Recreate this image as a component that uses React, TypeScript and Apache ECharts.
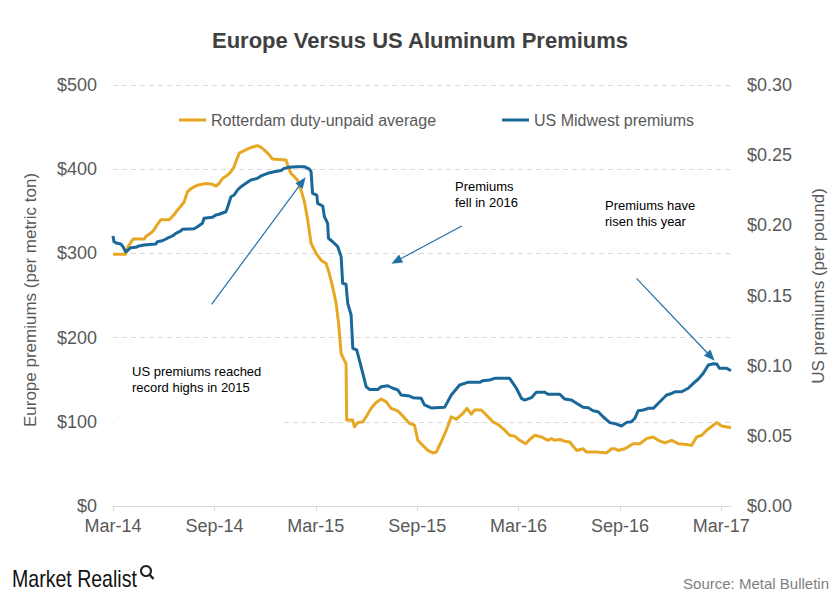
import React, { useEffect, useRef } from "react";
import * as echarts from "echarts";

// ---- data (x = months since Mar-2014) ----
const xTickLabels = ["Mar-14", "Sep-14", "Mar-15", "Sep-15", "Mar-16", "Sep-16", "Mar-17"];
const xTickMonths = [0, 6, 12, 18, 24, 30, 36];

const rotterdamMonths = [
  0, 0.75, 0.89, 1.19, 1.84, 1.94, 2.23, 2.43, 2.61, 2.83, 3.32, 3.62, 3.79, 4.01, 4.21, 4.4, 4.61, 5.0, 5.5, 5.89,
  6.09, 6.28, 6.48, 6.78, 6.98, 7.17, 7.27, 7.47, 7.77, 8.06, 8.36, 8.55, 8.76, 8.95, 9.21, 9.44, 10.24, 10.33, 10.53,
  10.73, 10.92, 11.13, 11.32, 11.52, 11.72, 12.02, 12.31, 12.61, 12.8, 13.0, 13.2, 13.35, 13.5, 13.69, 13.79, 13.83,
  14.18, 14.29, 14.48, 14.78, 14.98, 15.28, 15.57, 15.87, 16.16, 16.46, 16.85, 17.15, 17.55, 17.84, 18.04, 18.33,
  18.63, 18.93, 19.13, 19.42, 19.72, 20.02, 20.31, 20.71, 20.94, 21.2, 21.4, 21.8, 22.09, 22.48, 22.78, 23.18, 23.47,
  23.77, 24.07, 24.42, 24.66, 24.96, 25.35, 25.74, 25.94, 26.14, 26.44, 26.73, 27.03, 27.43, 27.82, 28.02, 28.61,
  29.21, 29.5, 29.7, 29.89, 30.29, 30.78, 31.18, 31.57, 31.97, 32.26, 32.66, 33.06, 33.45, 33.95, 34.24, 34.54, 34.84,
  35.13, 35.53, 35.73, 36.02, 36.57,
];
const rotterdamValues = [
  299, 299, 308, 317, 317, 320, 324, 328, 334, 340, 340, 346, 351, 356, 361, 373, 377, 381, 383, 382,
  380, 383, 389, 393, 397, 403, 409, 419, 422, 425, 427, 428, 426, 423, 418, 412, 411, 405, 395,
  391, 387, 375, 362, 340, 312, 300, 292, 288, 276, 260, 241, 217, 181, 173, 169, 102,
  102, 94, 99, 100, 106, 116, 123, 127, 124, 116, 113, 107, 98, 96, 78, 72,
  66, 63, 64, 76, 90, 106, 103, 110, 116, 109, 114, 114, 108, 100, 97, 90, 84,
  83, 78, 74, 79, 84, 82, 78, 80, 78, 79, 77, 76, 66, 68, 64, 64,
  63, 68, 68, 66, 68, 74, 74, 80, 82, 78, 75, 78, 74, 73, 72, 82, 84,
  90, 96, 99, 95, 93,
];

const usMonths = [
  0, 0.06, 0.25, 0.46, 0.59, 0.75, 0.85, 1.05, 1.35, 1.54, 1.84, 2.53, 2.63, 2.92, 3.22, 3.52, 3.72, 4.01, 4.11, 4.8,
  5.0, 5.29, 5.39, 5.89, 6.09, 6.28, 6.68, 6.78, 6.98, 7.17, 7.37, 7.57, 7.87, 8.16, 8.55, 8.76, 9.15, 9.54, 9.94,
  10.14, 10.43, 10.83, 11.32, 11.62, 11.72, 11.81, 12.06, 12.11, 12.41, 12.51, 12.7, 12.75, 13.0, 13.3, 13.5, 13.59,
  13.79, 13.89, 14.09, 14.19, 14.42, 14.58, 14.78, 14.98, 15.18, 15.67, 15.87, 16.26, 16.56, 16.85, 17.05, 17.55,
  17.74, 18.24, 18.43, 18.83, 19.62, 20.02, 20.51, 21.0, 21.7, 21.89, 22.29, 22.58, 23.47, 23.87, 24.17, 24.36, 24.76,
  25.05, 25.55, 25.74, 26.44, 26.73, 27.13, 27.43, 27.82, 28.12, 28.41, 28.71, 29.0, 29.4, 29.79, 30.09, 30.39, 30.69,
  30.88, 31.08, 31.38, 31.67, 31.97, 32.36, 32.76, 32.96, 33.25, 33.65, 34.04, 34.34, 34.64, 34.93, 35.23, 35.53,
  35.73, 35.88, 36.32, 36.57,
];
const usValues = [
  0.1924, 0.1883, 0.1872, 0.1867, 0.1848, 0.1812, 0.1819, 0.1841, 0.1843, 0.1853, 0.186, 0.1867, 0.1883, 0.189, 0.1908,
  0.1924, 0.1943, 0.196, 0.1972, 0.1976, 0.199, 0.2015, 0.205, 0.2057, 0.2074, 0.2079, 0.2097, 0.2128, 0.2204, 0.2216,
  0.2252, 0.2275, 0.23, 0.2323, 0.2335, 0.2352, 0.2371, 0.2382, 0.239, 0.2406, 0.2414, 0.2418, 0.2418, 0.24, 0.2382,
  0.2228, 0.2216, 0.2157, 0.2138, 0.2062, 0.2015, 0.1908, 0.1883, 0.1848, 0.1777, 0.1587, 0.158, 0.1444, 0.1361, 0.1124,
  0.1112, 0.104, 0.0946, 0.085, 0.0831, 0.0831, 0.085, 0.0857, 0.0839, 0.0827, 0.0791, 0.0784, 0.0772, 0.0767, 0.072,
  0.0699, 0.0703, 0.0791, 0.0862, 0.0881, 0.0881, 0.0893, 0.0898, 0.091, 0.091, 0.0839, 0.0767, 0.0755, 0.0772, 0.081,
  0.081, 0.0796, 0.0796, 0.0762, 0.0755, 0.0732, 0.0703, 0.07, 0.0679, 0.0672, 0.0636, 0.0594, 0.0584, 0.057, 0.0596,
  0.0601, 0.0625, 0.0679, 0.0684, 0.0696, 0.0696, 0.0743, 0.0791, 0.0798, 0.0814, 0.0814, 0.0839, 0.0874, 0.0905,
  0.0946, 0.1005, 0.1014, 0.1012, 0.0981, 0.0981, 0.0964,
];

const seriesNames = ["Rotterdam duty-unpaid average", "US Midwest premiums"];

const FONT = "'Liberation Sans', Arial, Helvetica, sans-serif";
const YELLOW = "#E6A823";
const BLUE = "#1A6799";
const ARROW = "#2470A6";
const LABEL = "#595959";

function arrow(x1: number, y1: number, x2: number, y2: number) {
  const dx = x2 - x1;
  const dy = y2 - y1;
  const len = Math.sqrt(dx * dx + dy * dy);
  const ux = dx / len;
  const uy = dy / len;
  const hl = 11;
  const hw = 4.5;
  const bx = x2 - ux * hl;
  const by = y2 - uy * hl;
  return [
    {
      type: "line",
      shape: { x1, y1, x2: bx, y2: by },
      style: { stroke: ARROW, lineWidth: 1.2 },
      z: 10,
    },
    {
      type: "polygon",
      shape: {
        points: [
          [x2, y2],
          [bx - uy * hw, by + ux * hw],
          [bx + uy * hw, by - ux * hw],
        ],
      },
      style: { fill: ARROW },
      z: 10,
    },
  ];
}

function note(x: number, y: number, text: string) {
  return {
    type: "text",
    x,
    y,
    z: 12,
    style: {
      text,
      font: `13px ${FONT}`,
      fill: "#000",
      lineHeight: 16,
      align: "left",
      verticalAlign: "top",
    },
  };
}

export default function App() {
  const ref = useRef<HTMLDivElement>(null);
  useEffect(() => {
    if (!ref.current) return;
    const chart = echarts.init(ref.current, null, { renderer: "svg" });
    const rotData = rotterdamMonths.map((m, i) => [m, rotterdamValues[i]]);
    const usData = usMonths.map((m, i) => [m, usValues[i]]);
    chart.setOption({
      animation: false,
      backgroundColor: "#fff",
      textStyle: { fontFamily: FONT },
      grid: { left: 113, right: 109, top: 85, bottom: 94, containLabel: false, outerBoundsMode: "none" },
      legend: {
        left: 174,
        top: 107,
        itemGap: 66,
        itemWidth: 27,
        itemHeight: 3,
        icon: "rect",
        textStyle: { fontSize: 16, color: LABEL, fontFamily: FONT },
        data: seriesNames,
      },
      xAxis: {
        type: "value",
        min: 0,
        max: 36.57,
        interval: 6,
        splitLine: { show: false },
        axisLine: { show: true, lineStyle: { color: "#D9D9D9", width: 1 } },
        axisTick: { show: true, length: 5, customValues: xTickMonths, lineStyle: { color: "#D9D9D9" } },
        axisLabel: {
          customValues: xTickMonths,
          fontSize: 18,
          color: LABEL,
          margin: 11,
          fontFamily: FONT,
          formatter: (v: number) => {
            const i = xTickMonths.indexOf(Math.round(v));
            return i >= 0 ? xTickLabels[i] : "";
          },
        },
      },
      yAxis: [
        {
          type: "value",
          min: 0,
          max: 500,
          interval: 100,
          axisLine: { show: false },
          axisTick: { show: false },
          splitLine: { show: true, lineStyle: { color: "#D9D9D9", type: [5, 4], width: 1 } },
          axisLabel: { fontSize: 18, color: LABEL, margin: 16, fontFamily: FONT, formatter: (v: number) => "$" + v },
        },
        {
          type: "value",
          min: 0,
          max: 0.3,
          interval: 0.05,
          axisLine: { show: false },
          axisTick: { show: false },
          splitLine: { show: false },
          axisLabel: {
            fontSize: 18,
            color: LABEL,
            margin: 16,
            fontFamily: FONT,
            formatter: (v: number) => "$" + v.toFixed(2),
          },
        },
      ],
      series: [
        {
          name: seriesNames[0],
          type: "line",
          data: rotData,
          yAxisIndex: 0,
          showSymbol: false,
          symbol: "none",
          color: YELLOW,
          lineStyle: { width: 3, color: YELLOW, join: "round" },
          z: 3,
        },
        {
          name: seriesNames[1],
          type: "line",
          data: usData,
          yAxisIndex: 1,
          showSymbol: false,
          symbol: "none",
          color: BLUE,
          lineStyle: { width: 3, color: BLUE, join: "round" },
          z: 4,
        },
      ],
      graphic: [
        {
          type: "text",
          x: 420,
          y: 40,
          style: {
            text: "Europe Versus US Aluminum Premiums",
            font: `bold 22px ${FONT}`,
            fill: "#404040",
            align: "center",
            verticalAlign: "middle",
          },
        },
        {
          type: "text",
          x: 30,
          y: 300,
          rotation: Math.PI / 2,
          style: {
            text: "Europe premiums (per metric ton)",
            font: `17px ${FONT}`,
            fill: LABEL,
            align: "center",
            verticalAlign: "middle",
          },
        },
        {
          type: "text",
          x: 818,
          y: 286,
          rotation: Math.PI / 2,
          style: {
            text: "US premiums (per pound)",
            font: `17px ${FONT}`,
            fill: LABEL,
            align: "center",
            verticalAlign: "middle",
          },
        },
        {
          type: "rect",
          shape: { x: 114, y: 362, width: 167, height: 66 },
          style: { fill: "#fff" },
          z: 5,
        },
        note(132, 363.5, "US premiums reached\nrecord highs in 2015"),
        note(455, 178.5, "Premiums\nfell in 2016"),
        note(605, 197, "Premiums have\nrisen this year"),
        ...arrow(211.6, 304.3, 305.6, 177.3),
        ...arrow(461.8, 226, 391.4, 263.7),
        ...arrow(636.5, 278.3, 714.7, 360.7),
        {
          type: "text",
          x: 12,
          y: 579,
          scaleX: 0.85,
          style: {
            text: "Market Realist",
            font: `23px ${FONT}`,
            fill: "#111",
            align: "left",
            verticalAlign: "middle",
          },
        },
        {
          type: "circle",
          shape: { cx: 146, cy: 571, r: 5 },
          style: { fill: "none", stroke: "#222", lineWidth: 2 },
        },
        {
          type: "line",
          shape: { x1: 149.5, y1: 574.5, x2: 153.5, y2: 579 },
          style: { stroke: "#222", lineWidth: 2.5 },
        },
        {
          type: "text",
          x: 829,
          y: 583,
          style: {
            text: "Source: Metal Bulletin",
            font: `15px ${FONT}`,
            fill: "#7F7F7F",
            align: "right",
            verticalAlign: "middle",
          },
        },
      ],
    });
    return () => chart.dispose();
  }, []);
  return <div ref={ref} style={{ position: "absolute", left: 0, top: 0, width: 840, height: 600 }} />;
}
